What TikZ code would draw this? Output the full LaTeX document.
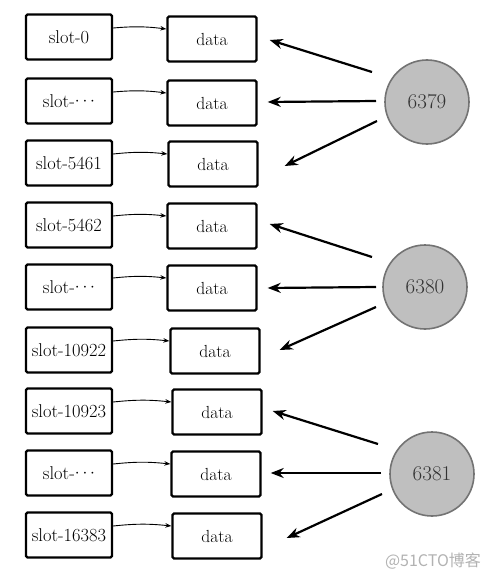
\documentclass[tikz,border=0pt]{standalone}
\usepackage{fontspec}
\newfontfamily\cjk{Noto Sans CJK SC}
\usetikzlibrary{arrows.meta}
\begin{document}
\begin{tikzpicture}[x=1pt,y=-1pt,
  box/.style={draw,line width=2.4pt,minimum width=86pt,minimum height=45pt,inner sep=0pt,rounded corners=1.5pt,font=\fontsize{18.5}{20}\selectfont},
  databox/.style={box,minimum width=89pt,font=\fontsize{17.5}{20}\selectfont},
  srv/.style={circle,draw=black!55,line width=1.6pt,fill=black!25,minimum size=84pt,inner sep=0pt,font=\fontsize{21}{23}\selectfont,text=black!80},
  small/.style={-{Stealth[length=6pt,width=4.5pt]},line width=0.9pt},
  big/.style={-{Stealth[length=13pt,width=10pt]},line width=2.2pt}
]
\useasboundingbox (0,0) rectangle (492,578);
% slots
\node[box] (s1) at (69,37) {slot-0};
\node[box] (s2) at (69,101) {slot-\raisebox{2pt}{$\cdots$}};
\node[box] (s3) at (69,163) {slot-5461};
\node[box] (s4) at (69,225) {slot-5462};
\node[box] (s5) at (69,287) {slot-\raisebox{2pt}{$\cdots$}};
\node[box] (s6) at (69,350) {slot-10922};
\node[box] (s7) at (69,411) {slot-10923};
\node[box] (s8) at (69,473) {slot-\raisebox{2pt}{$\cdots$}};
\node[box] (s9) at (69,535) {slot-16383};
% data
\node[databox] (d1) at (212,39) {data};
\node[databox] (d2) at (212,103) {data};
\node[databox] (d3) at (213,164) {data};
\node[databox] (d4) at (212,226) {data};
\node[databox] (d5) at (212,288) {data};
\node[databox] (d6) at (215,351) {data};
\node[databox] (d7) at (217,412) {data};
\node[databox] (d8) at (216,474) {data};
\node[databox] (d9) at (217,536) {data};
% small arrows
\foreach \i in {1,...,9}{
  \draw[small] ([yshift=9pt]s\i.east) to[bend left=6] ([yshift=10pt]d\i.west);
}
% servers
\node[srv] (c1) at (427,102) {6379};
\node[srv] (c2) at (425,287) {6380};
\node[srv] (c3) at (432,474) {6381};
% arrow tails
\coordinate (t1a) at (372,72);  \coordinate (t1b) at (376,101); \coordinate (t1c) at (377,121);
\coordinate (t2a) at (372,257); \coordinate (t2b) at (376,287); \coordinate (t2c) at (376,307);
\coordinate (t3a) at (378,444); \coordinate (t3b) at (381,473); \coordinate (t3c) at (382,494);
\draw[big] (t1a) -- ([xshift=12pt,yshift=-1pt]d1.east);
\draw[big] (t1b) -- ([xshift=10pt,yshift=1pt]d2.east);
\draw[big] (t1c) -- ([xshift=26pt,yshift=-2pt]d3.east);
\draw[big] (t2a) -- ([xshift=12pt,yshift=2pt]d4.east);
\draw[big] (t2b) -- ([xshift=10pt]d5.east);
\draw[big] (t2c) -- ([xshift=19pt,yshift=1pt]d6.east);
\draw[big] (t3a) -- ([xshift=10pt,yshift=1pt]d7.east);
\draw[big] (t3b) -- ([xshift=9pt,yshift=1pt]d8.east);
\draw[big] (t3c) -- ([xshift=24pt,yshift=-2pt]d9.east);
% watermark
\node[text=black!30,font=\cjk\fontsize{16}{18}\selectfont] (wm) at (433,561) {@51CTO博客};
\end{tikzpicture}
\end{document}
